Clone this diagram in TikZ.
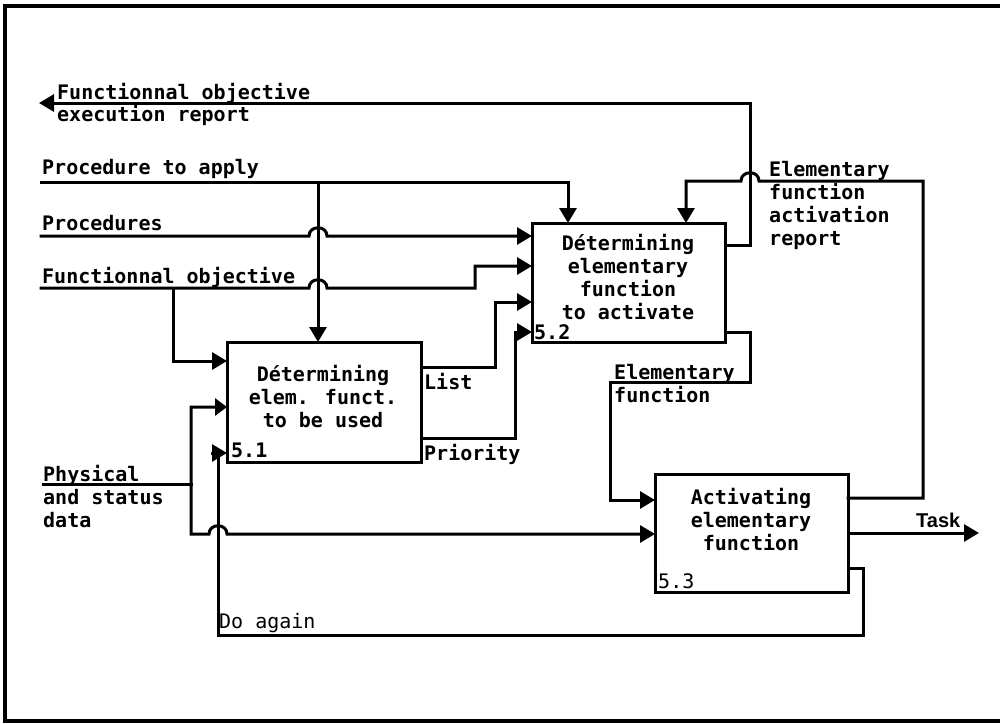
\documentclass[tikz,border=0pt]{standalone}
\usepackage{fontspec}
\usetikzlibrary{arrows.meta}
\newfontfamily\monofam{DejaVu Sans Mono}
\newfontfamily\sansfam{Liberation Sans}
\newcommand\dgfont{\monofam\bfseries\fontsize{20}{23}\selectfont}
\newcommand\dgthin{\monofam\fontsize{20}{23}\selectfont}
\newcommand\dgtask{\sansfam\bfseries\fontsize{20}{23}\selectfont}
\tikzset{
  ln/.style={line width=3pt, line join=miter, line cap=rect},
  arr/.style={ln, -{Triangle[length=15pt,width=17pt]}},
  arrb/.style={ln, {Triangle[length=12pt,width=17pt]}-{Triangle[length=15pt,width=17pt]}},
  blk/.style={draw, line width=3pt, inner sep=0pt, outer sep=0pt},
  lbl/.style={font=\dgfont, inner sep=0pt, align=left, anchor=west},
  btxt/.style={font=\dgfont, inner sep=0pt, align=center},
  frame/.style={line width=4pt, line cap=rect},
}
\begin{document}
\begin{tikzpicture}[x=1pt,y=-1pt]
\useasboundingbox (0,0) rectangle (1000,723);
% frame
\draw[frame] (1002,6) -- (5,6) -- (5,721) -- (1002,721);
% boxes
\node[blk, minimum width=194pt, minimum height=120pt] (b1) at (324,402) {};
\node[blk, minimum width=193pt, minimum height=119pt] (b2) at (628.5,282.5) {};
\node[blk, minimum width=193pt, minimum height=118pt] (b3) at (751.5,533) {};
\node[btxt] (t1) at (323,397) {Détermining\\elem. funct.\\to be used};
\node[btxt] (t2) at (628,277) {Détermining\\elementary\\function\\to activate};
\node[btxt] (t3) at (751,520) {Activating\\elementary\\function};
\node[lbl] (n1) at (231,450) {5.1};
\node[lbl] (n2) at (534,332) {5.2};
\node[lbl, font=\dgthin] (n3) at (658,581) {5.3};
% free ends
\coordinate (feo) at (39,103);
\coordinate (pta) at (41,182);
\coordinate (prc) at (41,236);
\coordinate (fob) at (41,288);
\coordinate (phy) at (43,484);
\coordinate (tsk) at (979,533);
% labels
\node[lbl] (l1) at (57,93) {Functionnal objective};
\node[lbl] (l2) at (57,115) {execution report};
\node[lbl] (l3) at (42,169) {Procedure to apply};
\node[lbl] (l4) at (42,223) {Procedures};
\node[lbl] (l5) at (42,277) {Functionnal objective};
\node[lbl] (l6) at (43,497) {Physical\\and status\\data};
\node[lbl] (l7) at (424,382) {List};
\node[lbl] (l8) at (424,454) {Priority};
\node[lbl] (l9) at (614,384) {Elementary\\function};
\node[lbl] (l10) at (769,205) {Elementary\\function\\activation\\report};
\node[lbl, font=\dgthin] (l11) at (219,623) {Do again};
\node[lbl, font=\dgtask] (l12) at (916,520) {Task};
% connectors
% functional objective execution report
\draw[arr] (b2.east |- 0,245) -- (750,245) -- (750,103) -- (feo);
% procedure to apply
\draw[arr] (pta) -- (568,182) -- (b2.north -| 568,0);
\draw[arr] (318,182) -- (b1.north -| 318,0);
% procedures
\draw[arr] (prc) -- (309,236) .. controls (309,225) and (327,225) .. (327,236) -- (b2.west |- 0,236);
% functional objective
\draw[arr] (fob) -- (309,288) .. controls (309,277) and (327,277) .. (327,288) -- (475,288) -- (475,266) -- (b2.west |- 0,266);
\draw[arr] (173,288) -- (173,361) -- (b1.west |- 0,361);
% list & priority
\draw[arr] (b1.east |- 0,367) -- (495,367) -- (495,302) -- (b2.west |- 0,302);
\draw[arr] (b1.east |- 0,438) -- (515,438) -- (515,332) -- (b2.west |- 0,332);
% physical and status data
\draw[ln] (phy) -- (191,484);
\draw[arrb] (b1.west |- 0,407) -- (191,407) -- (191,534) -- (209,534) .. controls (209,523) and (227,523) .. (227,534) -- (b3.west |- 0,534);
% elementary function
\draw[arr] (b2.east |- 0,332) -- (750,332) -- (750,382) -- (610,382) -- (610,500) -- (b3.west |- 0,500);
% elementary function activation report
\draw[arr] (b3.east |- 0,498) -- (923,498) -- (923,181) -- (759,181) .. controls (759,170) and (741,170) .. (741,181) -- (686,181) -- (b2.north -| 686,0);
% task
\draw[arr] (b3.east |- 0,533) -- (tsk);
% do again
\draw[arr] (b3.east |- 0,568) -- (863,568) -- (863,635) -- (218,635) -- (218,453) -- (b1.west |- 0,453);
\end{tikzpicture}
\end{document}
